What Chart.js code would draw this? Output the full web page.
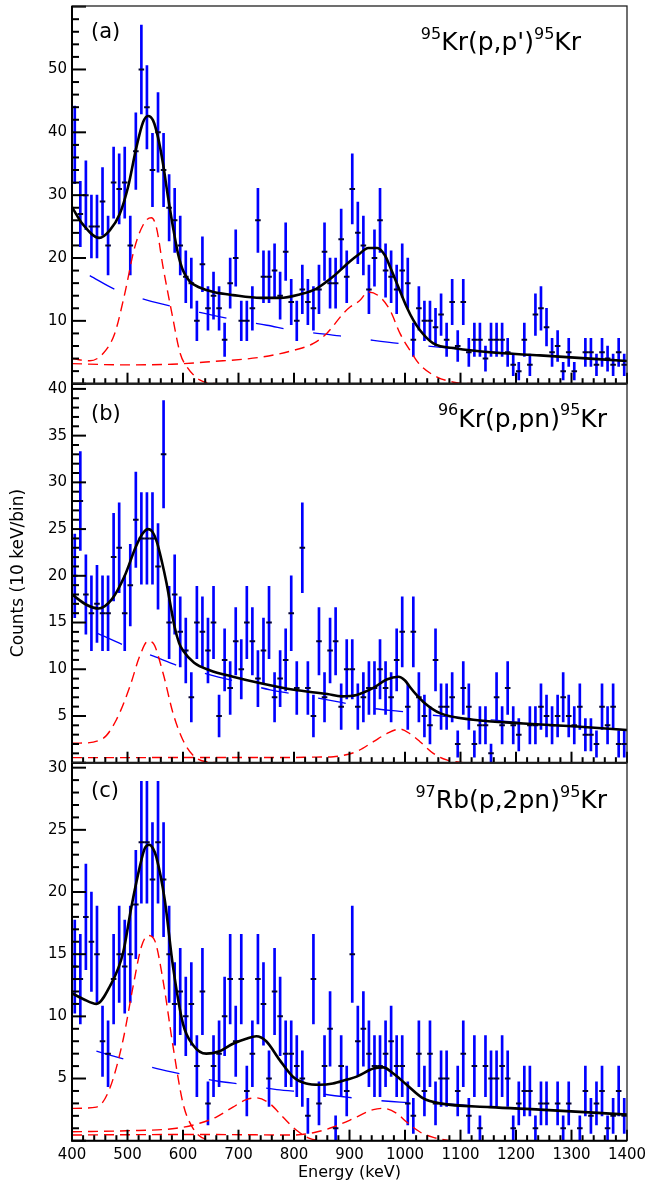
<!DOCTYPE html>
<html>
<head>
<meta charset="utf-8">
<script src="https://cdn.jsdelivr.net/npm/chart.js@4.4.1/dist/chart.umd.min.js"></script>
<style>
  body { margin: 0; background: #fff; width: 649px; height: 1185px; position: relative; overflow: hidden; }
  canvas { position: absolute; left: 0; }
</style>
</head>
<body>
<canvas id="pa" width="649" height="395" style="top:0px"></canvas>
<canvas id="pb" width="649" height="400" style="top:373px"></canvas>
<canvas id="pc" width="649" height="433" style="top:752px"></canvas>
<script>
// bin centres, 10 keV bins from 400 to 1400 keV
const energies = [
  405, 415, 425, 435, 445, 455, 465, 475, 485, 495, 505, 515, 525, 535, 545, 555, 565, 575, 585, 595,
  605, 615, 625, 635, 645, 655, 665, 675, 685, 695, 705, 715, 725, 735, 745, 755, 765, 775, 785, 795,
  805, 815, 825, 835, 845, 855, 865, 875, 885, 895, 905, 915, 925, 935, 945, 955, 965, 975, 985, 995,
  1005, 1015, 1025, 1035, 1045, 1055, 1065, 1075, 1085, 1095, 1105, 1115, 1125, 1135, 1145, 1155, 1165, 1175, 1185, 1195,
  1205, 1215, 1225, 1235, 1245, 1255, 1265, 1275, 1285, 1295, 1305, 1315, 1325, 1335, 1345, 1355, 1365, 1375, 1385, 1395
]

// counts per bin (null = empty bin, not drawn)
const countsA = [
  38, 27, 30, 25, 25, 29, 22, 32, 31, 32, 22, 37, 50, 44, 34, 40, 34, 28, 26, 22,
  17, 16, 10, 19, 12, 14, 12, 7, 16, 20, 10, 10, 12, 26, 17, 17, 18, 14, 21, 13,
  10, 15, 13, 12, 15, 21, 16, 16, 23, 17, 31, 24, 22, 15, 20, 26, 18, 17, 15, 18,
  16, 7, 12, 10, 10, 9, 11, 7, 13, 6, 13, 5, 7, 7, 4, 7, 7, 7, 5, 3,
  2, 7, 3, 11, 12, 9, 5, 6, 2, 5, 2, null, 5, 5, 3, 5, 4, 3, 5, 3
]
const countsB = [
  20, 28, 18, 16, 17, 16, 16, 22, 23, 16, 19, 26, 24, 24, 24, 21, 33, 15, 18, 14,
  12, 7, 15, 14, 12, 15, 5, 11, 8, 13, 10, 15, 13, 9, 12, 15, 7, 9, 11, 16,
  8, 23, 8, 5, 13, 7, 12, 13, 6, 10, 10, 6, 7, 8, 8, 10, 8, 7, 11, 14,
  6, 14, 7, 5, 4, 11, 6, 6, 7, 2, 8, 6, 2, 4, 4, 1, 7, 4, 8, 4,
  3, null, 4, 4, 6, 5, 4, 5, 7, 5, 4, 6, 3, 3, 2, 6, 4, 6, 2, 2
]
const countsC = [
  14, 13, 18, 16, 15, 8, 7, 13, 15, 14, 15, 19, 24, 24, 21, 24, 21, 15, 11, 12,
  10, 11, 6, 12, 3, 6, 7, 10, 13, 8, 13, 4, 7, 13, 11, 5, 12, 10, 7, 7,
  6, 5, 2, 13, 3, 6, 9, 1, 6, 4, 15, 8, 9, 7, 6, 6, 7, 8, 6, 6,
  3, 2, 7, 4, 7, 3, 5, 5, null, 4, 7, 2, 6, 1, 6, 5, 5, 6, 5, 1,
  3, 4, 4, 1, 3, 3, null, 3, 1, 3, null, 1, 4, 2, 3, 4, 1, 2, 4, 2
]

// fitted curves: [energy, counts]
const fitA = [[400,28.1],[420,25.3],[449,23.2],[468,24.4],[486,27.0],[501,31.3],[516,37.6],[528,41.6],[537,42.6],[546,41.9],
  [555,39.2],[564,35.0],[573,29.7],[582,24.9],[591,20.7],[600,18.0],[612,16.3],[630,15.3],[655,14.6],[690,14.1],
  [740,13.65],[775,13.65],[810,14.2],[840,15.1],[870,17.0],[900,19.4],[917,20.6],[934,21.6],[950,21.6],[964,20.4],
  [973,18.6],[988,15.4],[1003,12.2],[1015,10.1],[1027,8.5],[1051,6.4],[1093,5.6],[1153,5.0],[1243,4.5],[1400,3.6]]
const peak1A = [[400,4.0],[432,3.65],[456,4.8],[477,8.0],[495,14.3],[513,21.7],[531,25.7],[543,26.4],[552,24.9],[564,18.6],
  [580,11.2],[595,4.8],[607,2.7],[630,0.6],[655,0.05],[680,0]]
const peak2A = [[400,3.2],[490,3.0],[580,3.1],[649,3.5],[739,4.2],[799,5.3],[835,6.4],[859,8.0],[889,11.2],[901,12.2],
  [918,13.2],[934,14.6],[955,13.8],[973,11.7],[991,8.0],[1009,5.3],[1027,3.0],[1057,1.1],[1093,0.16],[1120,0]]
const bgA = [[432,17.2],[480,14.9],[535,13.3],[586,12.2],[643,11.1],[691,10.2],[751,9.3],[799,8.5],[883,7.6],[943,6.9],
  [991,6.4],[1051,5.9],[1123,5.3],[1243,4.5],[1400,3.6]]

const fitB = [[400,18.0],[426,16.9],[448,16.5],[472,17.5],[495,20.0],[515,23.1],[527,24.5],[537,25.0],[545,24.7],[553,23.6],
  [562,21.5],[570,19.3],[578,16.7],[585,14.5],[593,12.8],[600,12.0],[620,10.7],[648,9.9],[690,9.2],[740,8.5],
  [800,7.8],[860,7.35],[886,7.1],[913,7.25],[943,8.0],[967,8.9],[988,9.2],[1000,8.8],[1009,8.1],[1020,7.3],
  [1033,6.5],[1063,5.3],[1123,4.6],[1213,4.2],[1303,3.9],[1400,3.5]]
const peak1B = [[400,2.1],[414,2.1],[456,2.6],[480,4.6],[504,8.1],[522,11.4],[537,13.0],[546,12.8],[564,9.6],[582,5.3],
  [600,2.4],[618,0.8],[642,0.1],[670,0]]
const peak2B = [[400,0.54],[600,0.55],[780,0.55],[840,0.6],[871,0.64],[890,0.8],[913,1.2],[943,2.25],[967,3.1],[991,3.6],
  [1009,3.1],[1027,2.25],[1051,1.0],[1075,0.3],[1105,0]]
const bgB = [[444,13.9],[493,12.6],[547,11.4],[595,10.3],[649,9.4],[703,8.6],[757,7.8],[811,7.25],[885,6.45],[943,5.8],
  [991,5.5],[1063,5.0],[1153,4.6],[1243,4.1],[1400,3.5]]

const fitC = [[400,11.85],[420,11.4],[444,11.0],[468,12.4],[492,15.1],[507,18.8],[522,22.0],[531,23.5],[539,23.8],[546,23.5],
  [552,22.8],[567,19.4],[582,14.0],[600,9.4],[618,7.7],[642,7.0],[666,7.2],[690,7.8],[714,8.2],[732,8.4],
  [750,8.0],[774,6.5],[798,5.15],[822,4.6],[846,4.5],[870,4.6],[894,4.9],[913,5.15],[943,5.8],[961,5.9],
  [979,5.4],[1003,4.5],[1033,3.4],[1063,3.0],[1153,2.7],[1243,2.5],[1400,2.1]]
const peak1C = [[400,2.6],[444,2.7],[468,4.2],[492,8.1],[510,12.4],[525,15.6],[537,16.5],[549,16.1],[564,12.9],[582,7.6],
  [600,3.0],[618,1.0],[642,0.1],[670,0]]
const peak2C = [[400,0.72],[498,0.8],[588,1.0],[630,1.4],[660,1.9],[690,2.7],[714,3.3],[732,3.45],[756,3.0],[780,1.9],
  [804,0.86],[828,0.19],[850,0]]
const peak3C = [[400,0.46],[620,0.5],[800,0.46],[835,0.64],[871,1.1],[901,1.66],[943,2.5],[961,2.6],[985,2.2],[1003,1.5],
  [1027,0.7],[1051,0.27],[1080,0]]
const bgC = [[444,7.2],[498,6.5],[553,5.8],[604,5.3],[661,4.8],[712,4.5],[769,4.1],[823,3.9],[895,3.5],[937,3.3],
  [991,3.1],[1063,3.0],[1153,2.7],[1243,2.5],[1400,2.1]]

const FONT = '"DejaVu Sans", sans-serif'

// tick marks inside the frame, frame box and panel texts
const framePlugin = {
  id: 'frame',
  afterDatasetsDraw(chart, args, opts) {
    const { ctx, chartArea: a } = chart
    const x = chart.scales.x, y = chart.scales.y
    ctx.save()
    ctx.strokeStyle = '#000'
    ctx.lineWidth = 2
    y.ticks.forEach(t => {
      const py = y.getPixelForValue(t.value)
      const len = t.value % opts.yMajor === 0 ? 14 : 7
      ctx.beginPath(); ctx.moveTo(a.left, py); ctx.lineTo(a.left + len, py); ctx.stroke()
    })
    x.ticks.forEach(t => {
      const px = x.getPixelForValue(t.value)
      const len = t.value % 100 === 0 ? 11 : 5.5
      ctx.beginPath(); ctx.moveTo(px, a.bottom); ctx.lineTo(px, a.bottom - len); ctx.stroke()
    })
    // frame
    ctx.lineWidth = 1.3
    ctx.strokeStyle = '#222'
    ctx.strokeRect(a.left, a.top, a.right - a.left, a.bottom - a.top)
    ctx.lineWidth = 2
    ctx.strokeStyle = '#000'
    ctx.beginPath(); ctx.moveTo(a.left, a.top); ctx.lineTo(a.left, a.bottom); ctx.lineTo(a.right, a.bottom); ctx.stroke()

    // panel letter
    ctx.fillStyle = '#000'
    ctx.textBaseline = 'alphabetic'
    ctx.font = '21px ' + FONT
    ctx.fillText(opts.letter, 91, opts.letterBase - chart.canvas.offsetTop)

    // reaction label with superscripts
    const base = opts.reactBase - chart.canvas.offsetTop
    let w = 0
    opts.reaction.forEach(p => {
      ctx.font = (p[1] ? '16px ' : '25px ') + FONT
      w += ctx.measureText(p[0]).width
    })
    let xx = opts.reactRight - w
    opts.reaction.forEach(p => {
      ctx.font = (p[1] ? '16px ' : '25px ') + FONT
      ctx.fillText(p[0], xx, p[1] ? base - 11.5 : base)
      xx += ctx.measureText(p[0]).width
    })
    ctx.restore()
  }
}

function makePanel(id, counts, curves, o) {
  const bars = [], marks = []
  energies.forEach((e, i) => {
    const c = counts[i]
    if (c == null) return
    const err = Math.sqrt(c)
    bars.push({ x: e, y: [c - err, c + err] })
    marks.push({ x: e, y: c })
  })

  const datasets = [
    { type: 'line', data: curves.fit.map(p => ({ x: p[0], y: p[1] })), borderColor: '#000', borderWidth: 2.6,
      pointRadius: 0, cubicInterpolationMode: 'monotone', order: 0 },
    { type: 'line', data: marks, showLine: false, pointStyle: 'line', pointRadius: 2.8,
      pointBorderWidth: 2, pointBorderColor: '#000033', order: 1 }
  ]
  curves.peaks.forEach(pk => {
    datasets.push({ type: 'line', data: pk.map(p => ({ x: p[0], y: p[1] })), borderColor: '#ff0000',
      borderWidth: 1.4, borderDash: [10, 6], pointRadius: 0, cubicInterpolationMode: 'monotone', order: 2 })
  })
  datasets.push({ type: 'line', data: curves.bg.map(p => ({ x: p[0], y: p[1] })), borderColor: '#0000ff',
    borderWidth: 1.3, borderDash: [28, 30], pointRadius: 0, cubicInterpolationMode: 'monotone', order: 3 })
  datasets.push({ type: 'bar', data: bars, backgroundColor: '#0000ff', borderWidth: 0,
    barThickness: 2, grouped: false, order: 4 })

  return new Chart(document.getElementById(id), {
    type: 'line',
    data: { datasets },
    options: {
      responsive: false,
      animation: false,
      events: [],
      layout: { padding: { left: 0, right: 22, top: o.padTop, bottom: o.padBottom } },
      plugins: {
        legend: { display: false },
        tooltip: { enabled: false },
        frame: o.frame
      },
      scales: {
        x: {
          type: 'linear', min: 400, max: 1400, bounds: 'data', offset: false,
          grid: { display: false, drawTicks: false }, border: { display: false },
          ticks: {
            display: o.bottom, stepSize: 20, autoSkip: false, maxRotation: 0, minRotation: 0,
            includeBounds: false, padding: 5, color: '#000', font: { family: FONT, size: 15 },
            callback: v => v % 100 === 0 ? String(v) : ''
          },
          title: { display: o.bottom, text: 'Energy (keV)', color: '#000',
            font: { family: FONT, size: 16 }, padding: { top: 0, bottom: 3 } },
          afterFit: s => { s.height = o.bottom ? 44.3 : 0; s.paddingLeft = 0; s.paddingRight = 0 }
        },
        y: {
          type: 'linear', min: 0, max: o.ymax, bounds: 'data',
          grid: { display: false, drawTicks: false }, border: { display: false },
          ticks: {
            stepSize: o.yMinor, autoSkip: false, includeBounds: false, padding: 5, color: '#000',
            font: { family: FONT, size: 15 },
            callback: v => (v > 0 && v % o.frame.yMajor === 0 && v <= o.labelMax) ? String(v) : ''
          },
          title: { display: !!o.ytitle, text: o.ytitle || '', color: '#000',
            font: { family: FONT, size: 17 }, padding: { top: 8, bottom: 0 } },
          afterFit: s => { s.width = 72; s.paddingTop = 0; s.paddingBottom = 0 }
        }
      }
    },
    plugins: [framePlugin]
  })
}

makePanel('pa', countsA, { fit: fitA, peaks: [peak1A, peak2A], bg: bgA }, {
  ymax: 60.1, yMinor: 2, labelMax: 50, padTop: 5, padBottom: 11.3, bottom: false,
  frame: { yMajor: 10, letter: '(a)', letterBase: 37.5, reaction: [['95', 1], ['Kr(p,p\')', 0], ['95', 1], ['Kr', 0]],
    reactRight: 581, reactBase: 50 }
})
makePanel('pb', countsB, { fit: fitB, peaks: [peak1B, peak2B], bg: bgB }, {
  ymax: 40.6, yMinor: 1, labelMax: 40, padTop: 10.3, padBottom: 10.3, bottom: false, ytitle: 'Counts (10 keV/bin)',
  frame: { yMajor: 5, letter: '(b)', letterBase: 420, reaction: [['96', 1], ['Kr(p,pn)', 0], ['95', 1], ['Kr', 0]],
    reactRight: 607, reactBase: 426.7 }
})
makePanel('pc', countsC, { fit: fitC, peaks: [peak1C, peak2C, peak3C], bg: bgC }, {
  ymax: 30.4, yMinor: 1, labelMax: 30, padTop: 10.7, padBottom: 0, bottom: true,
  frame: { yMajor: 5, letter: '(c)', letterBase: 796.5, reaction: [['97', 1], ['Rb(p,2pn)', 0], ['95', 1], ['Kr', 0]],
    reactRight: 607, reactBase: 808.3 }
})
</script>
</body>
</html>
